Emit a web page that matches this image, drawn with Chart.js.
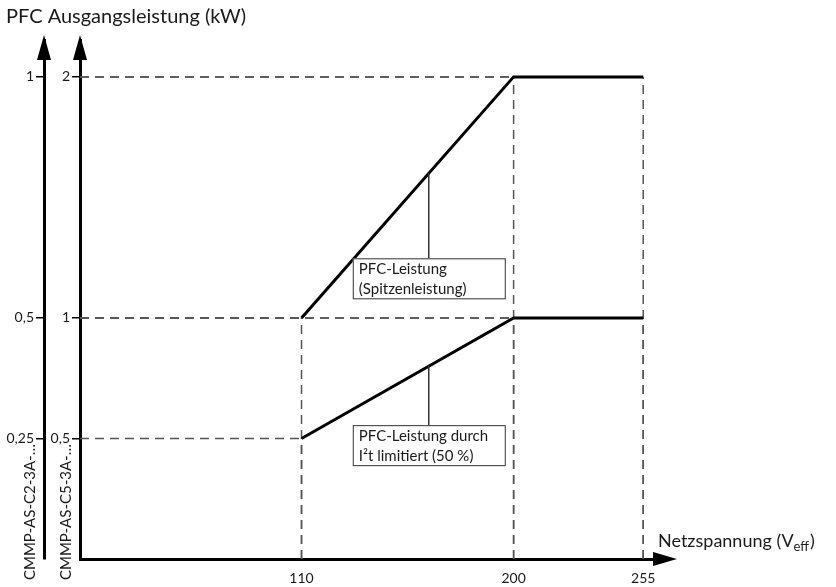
<!DOCTYPE html>
<html lang="de">
<head>
<meta charset="utf-8">
<title>PFC Ausgangsleistung</title>
<script src="https://cdn.jsdelivr.net/npm/chart.js@4.4.1/dist/chart.umd.min.js"></script>
<style>
    html, body { margin: 0; padding: 0; background: #fff; }
    #wrap { width: 836px; height: 587px; position: relative; }
</style>
</head>
<body>
<div id="wrap"><canvas id="pfcChart"></canvas></div>
<script>
// Netzspannung (V) an den Knickpunkten
const spannung = [110, 200, 255];
// Leistung in kW, bezogen auf die innere Achse (CMMP-AS-C5-3A-...)
const spitzenleistung = [1, 2, 2];
const i2tLeistung = [0.5, 1, 1];
// Achsbeschriftungen
const xTicks = [110, 200, 255];
const yTicksC5 = [0.5, 1, 2];
const yTicksC2 = [0.25, 0.5, 1];
// Textfelder an den Kurven (Ankerpunkt liegt auf der Kurve)
const hinweisSpitze = ['PFC-Leistung', '(Spitzenleistung)'];
const hinweisI2t = ['PFC-Leistung durch', 'I²t limitiert (50 %)'];
const ankerSpitze = [164, 1.6];
const ankerI2t = [164, 0.8];

const X_MIN = 16, X_MAX = 260;
const Y_MAX = 2.153;

Chart.defaults.font.family = 'Lato, "Noto Sans", sans-serif';
Chart.defaults.color = '#1a1a1a';

function punkte(werte) {
    return spannung.map((x, i) => ({ x: x, y: werte[i] }));
}

// gestrichelte Hilfslinien zu den Achsen
function hilfslinien(werte) {
    const linien = [];
    spannung.forEach((x, i) => {
        linien.push([{ x: X_MIN, y: werte[i] }, { x: x, y: werte[i] }]);
        linien.push([{ x: x, y: 0 }, { x: x, y: werte[i] }]);
    });
    return linien;
}

const guideStyle = {
    borderColor: '#555',
    borderWidth: 1.5,
    borderDash: [9, 6],
    pointRadius: 0,
    fill: false,
    order: 5
};

const datasets = [
    { label: 'Spitzenleistung', data: punkte(spitzenleistung), borderColor: '#000', borderWidth: 3, pointRadius: 0, order: 0 },
    { label: 'I2t', data: punkte(i2tLeistung), borderColor: '#000', borderWidth: 3, pointRadius: 0, order: 0 }
];
hilfslinien(spitzenleistung).concat(hilfslinien(i2tLeistung)).forEach(l => {
    datasets.push(Object.assign({ data: l }, guideStyle));
});

function pfeil(ctx, x1, y1, x2, y2, x3, y3) {
    ctx.fillStyle = '#000';
    ctx.beginPath();
    ctx.moveTo(x1, y1);
    ctx.lineTo(x2, y2);
    ctx.lineTo(x3, y3);
    ctx.closePath();
    ctx.fill();
}

function hinweis(ctx, chart, zeilen, anker, leader) {
    const px = chart.scales.x.getPixelForValue(anker[0]);
    const py = chart.scales.y.getPixelForValue(anker[1]);
    const top = py + leader;
    const left = px - 76;
    ctx.strokeStyle = '#333';
    ctx.lineWidth = 1.5;
    ctx.beginPath();
    ctx.moveTo(px, py);
    ctx.lineTo(px, top);
    ctx.stroke();
    ctx.fillStyle = '#fff';
    ctx.fillRect(left, top, 153, 40);
    ctx.lineWidth = 1;
    ctx.strokeRect(left + 0.5, top + 0.5, 152, 40);
    ctx.fillStyle = '#1a1a1a';
    ctx.font = '15px Lato';
    ctx.textAlign = 'left';
    ctx.textBaseline = 'middle';
    zeilen.forEach((z, i) => ctx.fillText(z, left + 6, top + 11 + i * 20));
}

const zeichnung = {
    id: 'zeichnung',
    afterDraw(chart) {
        const { ctx, chartArea, scales } = chart;
        ctx.save();
        // Pfeilspitzen
        [scales.y.right, scales.y2.right].forEach(ax => {
            pfeil(ctx, ax, chartArea.top - 5, ax - 7, chartArea.top + 20, ax + 7, chartArea.top + 20);
        });
        const b = scales.x.top;
        const r = scales.x.right;
        pfeil(ctx, r + 22, b, r - 2, b - 7, r - 2, b + 7);

        // Titel
        ctx.fillStyle = '#1a1a1a';
        ctx.textBaseline = 'middle';
        ctx.textAlign = 'left';
        ctx.font = '20px Lato';
        ctx.fillText('PFC Ausgangsleistung (kW)', 6, 17);

        ctx.textBaseline = 'alphabetic';
        let x = r + 3;
        const t1 = 'Netzspannung (V';
        ctx.font = '18px Lato';
        ctx.fillText(t1, x, 547);
        x += ctx.measureText(t1).width;
        ctx.font = '13px Lato';
        ctx.fillText('eff', x, 551);
        x += ctx.measureText('eff').width;
        ctx.font = '18px Lato';
        ctx.fillText(')', x + 1, 547);

        // Gerätebezeichnungen an den Achsen
        ctx.font = '15px Lato';
        ctx.textBaseline = 'middle';
        [[scales.y2.left + 30, 'CMMP-AS-C2-3A-…'], [scales.y.left + 22, 'CMMP-AS-C5-3A-…']].forEach(([tx, txt]) => {
            ctx.save();
            ctx.translate(tx, 580);
            ctx.rotate(-Math.PI / 2);
            ctx.fillText(txt, 0, 0);
            ctx.restore();
        });

        hinweis(ctx, chart, hinweisSpitze, ankerSpitze, 85);
        hinweis(ctx, chart, hinweisI2t, ankerI2t, 59);
        ctx.restore();
    }
};

const komma = v => String(v).replace('.', ',');

new Chart(document.getElementById('pfcChart'), {
    type: 'line',
    data: { datasets: datasets },
    options: {
        responsive: true,
        maintainAspectRatio: false,
        animation: false,
        layout: { padding: { top: 40, right: 181, left: 0, bottom: 0 } },
        plugins: { legend: { display: false }, tooltip: { enabled: false } },
        elements: { line: { tension: 0 } },
        scales: {
            x: {
                type: 'linear',
                min: X_MIN,
                max: X_MAX,
                afterBuildTicks: s => { s.ticks = xTicks.map(v => ({ value: v })); },
                afterFit: s => { s.height = 28; },
                ticks: { padding: 11, font: { size: 14 }, maxRotation: 0 },
                grid: { display: false, drawTicks: false },
                border: { display: true, color: '#000', width: 3 }
            },
            y: {
                type: 'linear',
                position: 'left',
                weight: 0,
                min: 0,
                max: Y_MAX,
                afterBuildTicks: s => { s.ticks = yTicksC5.map(v => ({ value: v })); },
                afterFit: s => { s.width = 36; },
                ticks: { padding: 2, font: { size: 14 }, callback: komma },
                grid: { display: true, drawOnChartArea: false, drawTicks: true, tickLength: 8, color: '#000', lineWidth: 1.5 },
                border: { display: true, color: '#000', width: 3 }
            },
            y2: {
                type: 'linear',
                position: 'left',
                weight: 1,
                min: 0,
                max: Y_MAX / 2,
                afterBuildTicks: s => { s.ticks = yTicksC2.map(v => ({ value: v })); },
                afterFit: s => { s.width = 44; },
                ticks: { padding: 2, font: { size: 14 }, callback: komma },
                grid: { display: true, drawOnChartArea: false, drawTicks: true, tickLength: 8, color: '#000', lineWidth: 1.5 },
                border: { display: true, color: '#000', width: 3 }
            }
        }
    },
    plugins: [zeichnung]
});
</script>
</body>
</html>
